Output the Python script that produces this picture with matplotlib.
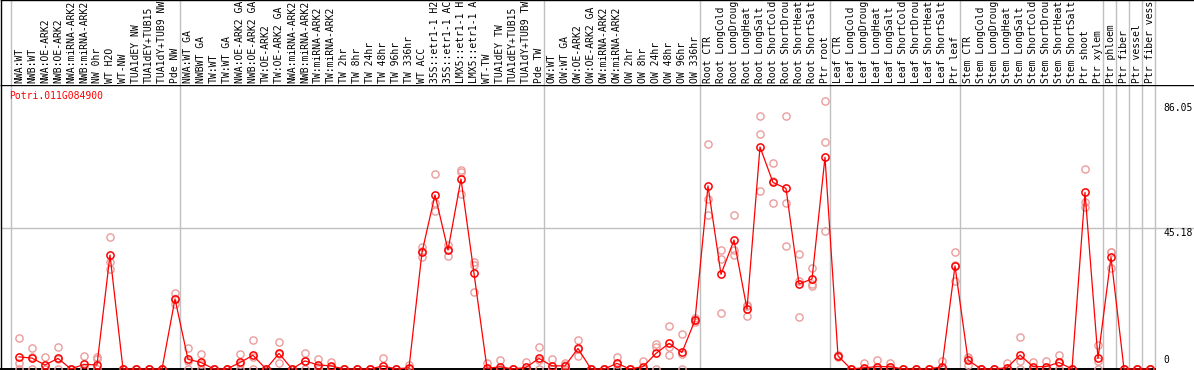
import numpy as np
import matplotlib
matplotlib.use("Agg")
import matplotlib.pyplot as plt
import matplotlib.transforms as mtransforms

# ---- data ----
gene = "Potri.011G084900"

# labels as far as the header shows them
labels = [
    # group 1
    "NWA:WT", "NWB:WT", "NWA:OE-ARK2", "NWB:OE-ARK2", "NWA:miRNA-ARK2",
    "NWB:miRNA-ARK2", "NW 0hr", "WT H2O", "WT-NW", "TUA1dEY NW",
    "TUA1dEY+TUB15", "TUA1dY+TUB9 NW", "Pde NW",
    # group 2
    "NWA:WT GA", "NWBWT GA", "TW:WT", "TW:WT GA", "NWA:OE-ARK2 GA",
    "NWB:OE-ARK2 GA", "TW:OE-ARK2", "TW:OE-ARK2 GA", "NWA:miRNA-ARK2",
    "NWB:miRNA-ARK2", "TW:miRNA-ARK2", "TW:miRNA-ARK2", "TW 2hr", "TW 8hr",
    "TW 24hr", "TW 48hr", "TW 96hr", "TW 336hr", "WT ACC",
    "35S::etr1-1 H2", "35S::etr1-1 AC", "LMX5::etr1-1 H",
    "LMX5::etr1-1 A", "WT-TW", "TUA1dEY TW", "TUA1dEY+TUB15",
    "TUA1dY+TUB9 TW", "Pde TW",
    # group 3
    "OW:WT", "OW:WT GA", "OW:OE-ARK2", "OW:OE-ARK2 GA", "OW:miRNA-ARK2",
    "OW:miRNA-ARK2", "OW 2hr", "OW 8hr", "OW 24hr", "OW 48hr", "OW 96hr",
    "OW 336hr",
    # root
    "Root CTR", "Root LongCold", "Root LongDroug", "Root LongHeat",
    "Root LongSalt", "Root ShortCold", "Root ShortDrou", "Root ShortHeat",
    "Root ShortSalt", "Ptr root",
    # leaf
    "Leaf CTR", "Leaf LongCold", "Leaf LongDroug", "Leaf LongHeat",
    "Leaf LongSalt", "Leaf ShortCold", "Leaf ShortDrou", "Leaf ShortHeat",
    "Leaf ShortSalt", "Ptr leaf",
    # stem
    "Stem CTR", "Stem LongCold", "Stem LongDroug", "Stem LongHeat",
    "Stem LongSalt", "Stem ShortCold", "Stem ShortDrou", "Stem ShortHeat",
    "Stem ShortSalt", "Ptr shoot", "Ptr xylem",
    # single tissues
    "Ptr phloem", "Ptr fiber", "Ptr vessel", "Ptr fiber vess",
]

group_sizes = [13, 28, 12, 10, 10, 11, 1, 1, 1, 1]

means = [
    3.9, 3.5, 1.3, 3.4, 0, 1.5, 1.3, 36.6, 0, 0, 0, 0, 22.5,
    3.1, 2.1, 0, 0, 2.1, 4.4, 0, 5.0, 0, 2.6, 1.3, 1.0, 0, 0, 0, 1.0, 0,
    0.4, 37.5, 55.9, 38.2, 61.0, 30.7, 0.2, 0.7, 0, 0.5, 3.4,
    1.0, 1.0, 6.6, 0, 0, 1.8, 0, 0.75, 5.0, 8.2, 5.3, 15.7,
    58.8, 30.4, 41.4, 19.3, 71.3, 59.9, 58.0, 27.3, 28.9, 68.0,
    4.2, 0, 0.4, 0.75, 0.75, 0, 0, 0, 0.75, 33.1,
    2.9, 0, 0, 0.4, 4.5, 0.75, 0.75, 2.1, 0, 56.7, 3.4,
    35.9, 0, 0, 0,
]

reps = [
    [9.9, 1.8, 0], [6.7, 3.8, 0], [3.9, 0, 0], [7.1, 3.1, 0], [0, 0, 0],
    [4.2, 0.3, 0], [3.9, 3.3, 0], [42.4, 34.5, 32.0], [0, 0, 0], [0, 0, 0],
    [0, 0, 0], [0, 0, 0], [24.3, 22.4, 20.8],
    [6.7, 2.6, 0], [4.8, 1.5, 0], [0, 0, 0], [0, 0, 0], [4.8, 1.5, 0],
    [9.3, 3.9, 0], [0, 0, 0], [8.6, 4.7, 1.8], [0, 0, 0], [5.2, 2.6, 0],
    [3.1, 0.8, 0], [2.2, 0.8, 0], [0, 0, 0], [0, 0, 0], [0, 0, 0],
    [3.5, 0, 0], [0, 0, 0], [1.3, 0, 0], [39.2, 37.9, 36.1],
    [62.5, 53.2, 50.7], [39.9, 38.5, 36.3], [63.9, 63.2, 56.1],
    [34.4, 33.4, 24.6], [1.8, 0, 0], [2.9, 0, 0], [0, 0, 0], [2.2, 0, 0],
    [7.2, 3.0, 0],
    [3.1, 0, 0], [1.8, 1.2, 0], [9.3, 6.3, 4.3], [0, 0, 0], [0, 0, 0],
    [3.9, 1.5, 0], [0, 0, 0], [2.7, 0, 0], [7.9, 7.2, 0], [13.9, 7.2, 4.5],
    [11.2, 4.8, 0], [16.3, 15.7, 15.2],
    [72.2, 54.5, 49.5], [38.2, 35.3, 17.9], [49.5, 38.2, 36.6],
    [20.6, 20.3, 17.0], [81.1, 75.4, 57.2], [66.0, 60.5, 53.2],
    [81.1, 53.2, 39.4], [36.8, 28.4, 16.6], [32.3, 27.2, 26.7],
    [86.05, 72.8, 44.3],
    [4.4, 4.2, 4.0], [0, 0, 0], [1.8, 0, 0], [2.9, 0, 0], [2.0, 0.5, 0],
    [0, 0, 0], [0, 0, 0], [0, 0, 0], [2.6, 0, 0], [37.5, 33.4, 28.4],
    [3.9, 3.4, 1.3], [0, 0, 0], [0, 0, 0], [1.8, 0, 0], [10.2, 2.6, 0],
    [2.4, 0, 0], [2.6, 0, 0], [4.5, 1.8, 0], [0, 0, 0],
    [64.1, 53.7, 52.1], [7.7, 2.6, 0],
    [37.7, 37.5, 32.5], [0, 0, 0], [0, 0, 0], [0, 0, 0],
]

yticks = [0, 45.18, 86.05]


def main():
    W, H = 1194, 370
    fig = plt.figure(figsize=(W / 100, H / 100), dpi=100)
    fig.patch.set_facecolor("white")

    # pixel layout of the original
    col_w = 13.0
    first_px = 19.0
    left_px = 1.0
    sep_px = 84.5
    base_px = 369.0
    px_per_unit = 3.114
    xl = ((left_px - first_px) / col_w, (W - first_px) / col_w)

    ax = fig.add_axes([left_px / W, (H - base_px) / H,
                       1 - left_px / W, (base_px - sep_px) / H])
    hax = fig.add_axes([left_px / W, (H - sep_px) / H,
                        1 - left_px / W, sep_px / H])
    for a in (ax, hax):
        a.set_xlim(*xl)
        a.set_xticks([])
        a.set_yticks([])
        a.spines["right"].set_visible(False)
        a.spines["bottom"].set_visible(False)
        for s in ("left", "top"):
            a.spines[s].set_linewidth(1.0)
            a.spines[s].set_color("black")
    ax.set_ylim(0, (base_px - sep_px) / px_per_unit)
    hax.set_ylim(0, 1)

    # group separators
    bounds = np.concatenate([[0], np.cumsum(group_sizes)]) - 8 / 13
    for b in bounds:
        ax.axvline(b, color="#c0c0c0", lw=1.0, zorder=0)
        hax.axvline(b, color="#c0c0c0", lw=1.0, zorder=0)
    ax.axhline(yticks[1], color="#c0c0c0", lw=1.0, zorder=0)
    # baseline only runs under the columns
    ax.axhline(0, xmin=0, xmax=(bounds[-1] - xl[0]) / (xl[1] - xl[0]),
               color="black", lw=1.4, zorder=1, clip_on=False)

    x = np.arange(len(means))
    r = np.array(reps)
    for j in range(r.shape[1]):
        ax.plot(x, r[:, j], ls="none", marker="o", ms=5.2, mfc="none",
                mec="#eb9c9c", mew=1.0, clip_on=False, zorder=2)
    ax.plot(x, means, color="red", lw=0.9, marker="o", ms=5.2, mfc="none",
            mec="red", mew=1.1, clip_on=False, zorder=3)

    # column labels
    tr = mtransforms.blended_transform_factory(hax.transData, hax.transAxes)
    for i, lab in enumerate(labels):
        hax.text(i, 1.5 / sep_px, lab, rotation=90, ha="center", va="bottom",
                 family="DejaVu Sans Mono", fontsize=7, transform=tr)

    # gene name
    fig.text(9 / W, 1 - 91 / H, gene, color="red", ha="left", va="top",
             family="DejaVu Sans Mono", fontsize=7)

    # value labels on the right
    ty = mtransforms.blended_transform_factory(ax.transAxes, ax.transData)
    lx = (1163 - left_px) / (W - left_px)
    ax.text(lx, yticks[2] - 0.5, "%.2f" % yticks[2], transform=ty, va="top",
            ha="left", family="DejaVu Sans Mono", fontsize=7)
    ax.text(lx, yticks[1], "%.2f" % yticks[1], transform=ty, va="top",
            ha="left", family="DejaVu Sans Mono", fontsize=7)
    ax.text(lx, yticks[0] + 1.2, "0", transform=ty, va="bottom",
            ha="left", family="DejaVu Sans Mono", fontsize=7)

    fig.savefig("out.png", dpi=100)


if __name__ == "__main__":
    main()
